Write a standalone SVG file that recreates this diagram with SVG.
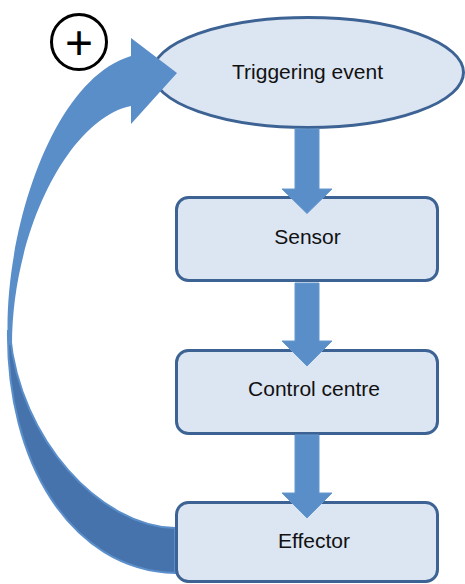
<svg xmlns="http://www.w3.org/2000/svg" width="465" height="584" viewBox="0 0 465 584">
<style>
.node{fill:#dce5f2;stroke:#3d6394;stroke-width:3}
.lbl{font-family:"Liberation Sans",Arial,sans-serif;font-size:21px;fill:#111;text-anchor:middle}
.arr{fill:#5a8ec9;stroke:#6497cf;stroke-width:1}
</style>
<rect width="465" height="584" fill="#fff"/>
<g id="triggering-event">
<ellipse class="node" cx="308" cy="72.5" rx="155.5" ry="55"/>
<text class="lbl" x="307.5" y="78.5">Triggering event</text>
</g>
<g id="feedback-loop">
<path d="M175,528 C100,526 20,440 10,335 L8,330 C6,460 70,570 175,573 Z" fill="#4773ad" stroke="#5b8fcb" stroke-width="2"/>
<path d="M131,38 L177,73 L131,124 L131,106 C70,118 12,230 12,345 L8,345 C2,240 50,80 131,56 Z" fill="#5a8ec9"/>
</g>
<g id="sensor">
<rect class="node" x="176.5" y="197.5" width="261" height="83" rx="12"/>
<text class="lbl" x="307.5" y="243.5">Sensor</text>
</g>
<g id="control-centre">
<rect class="node" x="176.5" y="350.5" width="261" height="83" rx="12"/>
<text class="lbl" x="314" y="395.5">Control centre</text>
</g>
<g id="effector">
<rect class="node" x="176.5" y="502.5" width="261" height="79" rx="12"/>
<text class="lbl" x="314" y="547.5">Effector</text>
</g>
<g id="connectors">
<path class="arr" d="M295,129 H319 V189 H332 L307,213.5 L282,189 H295 Z"/>
<path class="arr" d="M295,283 H319 V341 H332 L307,366 L282,341 H295 Z"/>
<path class="arr" d="M295,435 H319 V493 H332 L307,518 L282,493 H295 Z"/>
</g>
<g id="positive-sign">
<circle cx="79" cy="42" r="27.5" fill="none" stroke="#000" stroke-width="3"/>
<text x="79" y="59" font-family="'Liberation Sans',Arial,sans-serif" font-size="48" text-anchor="middle" fill="#000">+</text>
</g>
</svg>
